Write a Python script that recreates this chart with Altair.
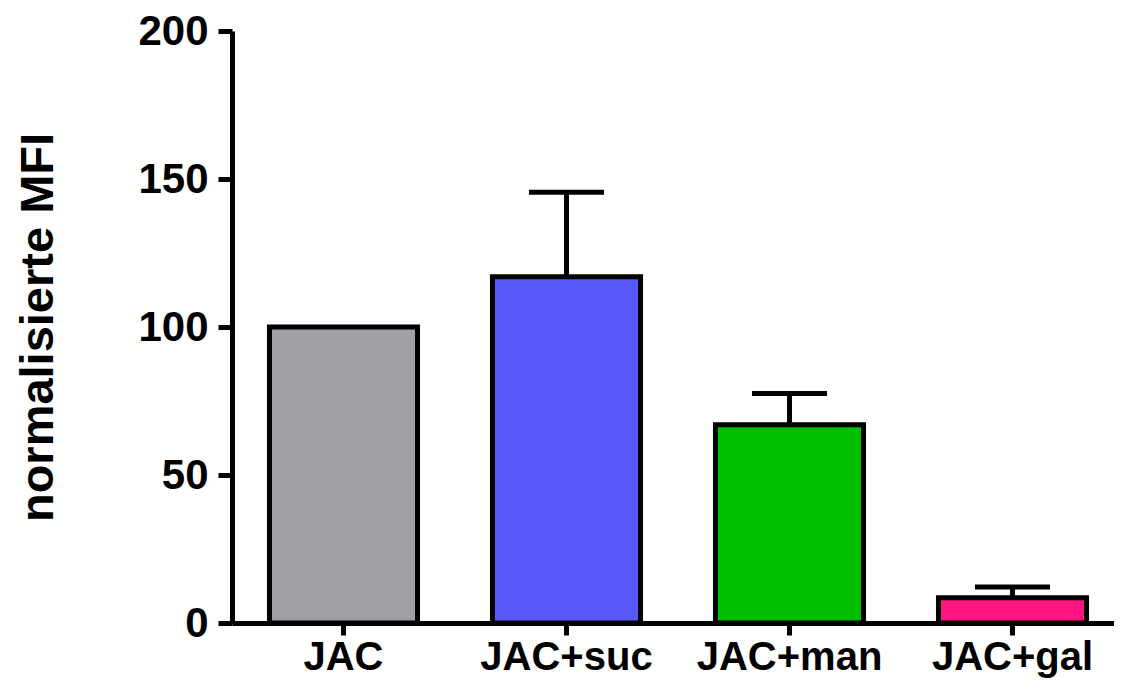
import altair as alt
import pandas as pd

categories = ["JAC", "JAC+suc", "JAC+man", "JAC+gal"]
means = [100.0, 117.0, 67.0, 8.5]
upper = [None, 145.5, 77.5, 12.2]
colors = ["#A1A0A4", "#5858FA", "#00BF00", "#FF1480"]

df = pd.DataFrame({"cat": categories, "mean": means, "upper": upper, "color": colors})
err = df.dropna(subset=["upper"])

FONT = "Liberation Sans"

x_scale = alt.Scale(domain=categories, range=[0, 892], paddingInner=0.336, paddingOuter=0.168)
x_axis = alt.Axis(title=None, labelAngle=0, labelAlign="center", labelBaseline="top",
                  labelLimit=0, labelFont=FONT, labelFontSize=40,
                  labelFontWeight="bold", labelColor="black", labelPadding=2,
                  domainColor="black", domainWidth=5, tickColor="black",
                  tickWidth=5, tickSize=12, grid=False, labelOverlap=False)
x = alt.X("cat:N", scale=x_scale, axis=x_axis)

y_scale = alt.Scale(domain=[0, 200], nice=False)
y_axis = alt.Axis(values=[0, 50, 100, 150, 200], title="normalisierte MFI",
                  titleFont=FONT, titleFontSize=47, titleFontWeight="bold",
                  titleColor="black", titleAngle=-90, titleX=-180, titleY=296,
                  titleAlign="center", titleBaseline="alphabetic",
                  labelFont=FONT, labelFontSize=42, labelFontWeight="bold",
                  labelColor="black", labelPadding=10,
                  domainColor="black", domainWidth=5, tickColor="black",
                  tickWidth=5, tickSize=14, grid=False)

bars = alt.Chart(df).mark_bar(stroke="black", strokeWidth=5).encode(
    x=x,
    y=alt.Y("mean:Q", scale=y_scale, axis=y_axis),
    color=alt.Color("color:N", scale=None),
)

rules = alt.Chart(err).mark_rule(color="black", strokeWidth=5).encode(
    x=x,
    y=alt.Y("mean:Q", scale=y_scale, axis=y_axis),
    y2="upper:Q",
)

caps = alt.Chart(err).mark_tick(color="black", thickness=5, size=75, opacity=1).encode(
    x=x,
    y=alt.Y("upper:Q", scale=y_scale, axis=y_axis),
)

chart = alt.layer(rules, bars, caps).properties(
    width=882, height=592,
    background="white",
    autosize=alt.AutoSizeParams(type="none"),
    padding={"left": 224, "top": 23, "right": 0, "bottom": 61},
).configure_view(
    stroke="transparent", strokeOpacity=0, strokeWidth=0
).configure_axis(grid=False)

chart.save("out.html", embed_options={"renderer": "svg", "actions": False})
